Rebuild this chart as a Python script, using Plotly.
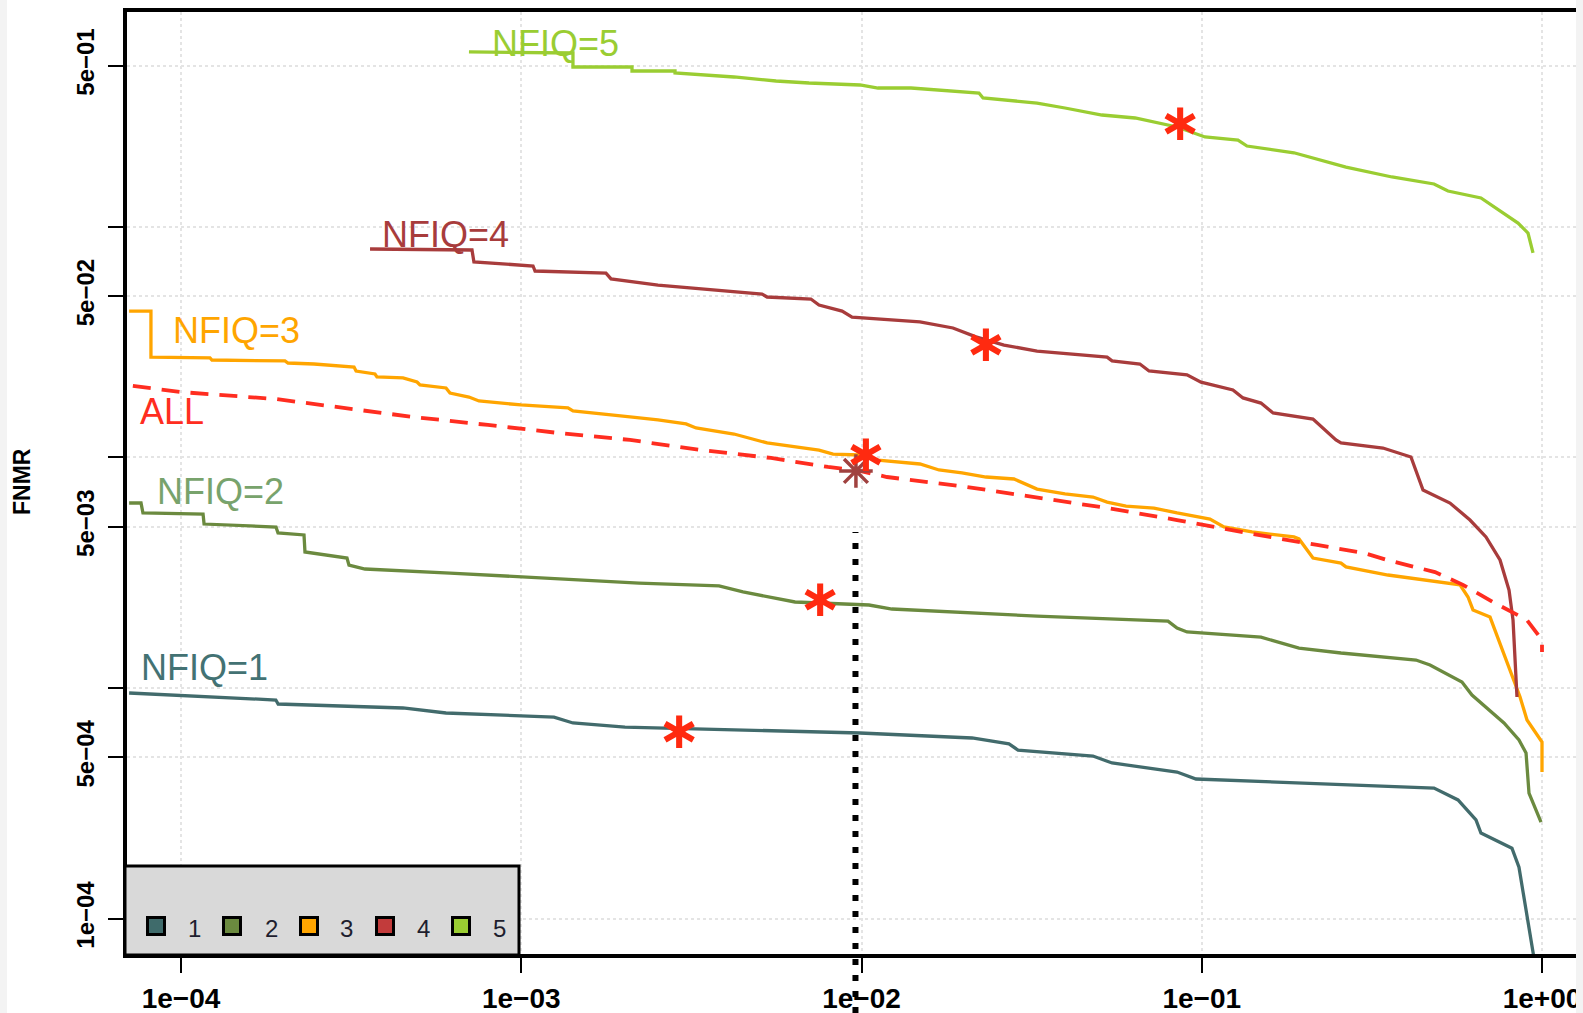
import numpy as np
import plotly.graph_objects as go

# ---------------- data (FAR on x, FNMR on y) ----------------
far_nfiq1 = [7.04e-5, 1.25e-4, 1.90e-4, 1.93e-4, 4.49e-4, 6.01e-4, 1.248e-3, 1.419e-3, 2.018e-3,
             9.9e-3, 2.113e-2, 2.713e-2, 2.884e-2, 4.79e-2, 5.45e-2, 8.46e-2, 9.62e-2, 0.4815,
             0.5664, 0.6397, 0.6616, 0.816, 0.8557, 0.960]
fnmr_nfiq1 = [9.51e-4, 9.14e-4, 8.87e-4, 8.52e-4, 8.19e-4, 7.79e-4, 7.48e-4, 7.05e-4, 6.77e-4,
              6.38e-4, 6.07e-4, 5.72e-4, 5.38e-4, 5.07e-4, 4.73e-4, 4.32e-4, 4.03e-4, 3.68e-4,
              3.27e-4, 2.68e-4, 2.35e-4, 2.02e-4, 1.67e-4, 5.98e-5]

far_nfiq2 = [7.04e-5, 7.63e-5, 7.73e-5, 1.161e-4, 1.169e-4, 1.902e-4, 1.928e-4, 2.299e-4, 2.314e-4,
             3.075e-4, 3.117e-4, 3.474e-4, 6.175e-4, 1.175e-3, 2.218e-3, 3.813e-3, 4.485e-3,
             6.377e-3, 1.052e-2, 1.229e-2, 3.28e-2, 7.96e-2, 8.46e-2, 9.05e-2, 0.1493, 0.1931,
             0.2566, 0.4263, 0.4687, 0.5818, 0.6226, 0.7731, 0.8557, 0.8976, 0.9158, 0.9933]
fnmr_nfiq2 = [6.34e-3, 6.34e-3, 5.74e-3, 5.68e-3, 5.14e-3, 4.99e-3, 4.70e-3, 4.61e-3, 3.89e-3,
              3.66e-3, 3.41e-3, 3.28e-3, 3.15e-3, 3.00e-3, 2.85e-3, 2.77e-3, 2.61e-3,
              2.36e-3, 2.29e-3, 2.20e-3, 2.05e-3, 1.95e-3, 1.82e-3, 1.75e-3, 1.66e-3, 1.49e-3,
              1.418e-3, 1.322e-3, 1.258e-3, 1.062e-3, 9.32e-4, 7.05e-4, 5.95e-4, 5.22e-4, 3.50e-4, 2.62e-4]

far_nfiq3 = [7.04e-5, 8.16e-5, 8.16e-5, 1.217e-4, 1.233e-4, 2.021e-4, 2.063e-4, 2.46e-4, 3.225e-4,
             3.27e-4, 3.716e-4, 3.767e-4, 4.493e-4, 4.939e-4, 5.04e-4, 6.009e-4, 6.175e-4, 7.02e-4,
             7.51e-4, 9.98e-4, 1.372e-3, 1.419e-3, 2.088e-3, 2.523e-3, 3.05e-3, 3.264e-3, 4.22e-3,
             5.28e-3, 7.50e-3, 8.25e-3, 9.9e-3, 1.118e-2, 1.485e-2, 1.69e-2, 1.974e-2, 2.323e-2,
             2.807e-2, 3.086e-2, 3.28e-2, 3.963e-2, 4.79e-2, 5.27e-2, 5.99e-2, 7.24e-2, 8.46e-2,
             0.1057, 0.1162, 0.1405, 0.1866, 0.1931, 0.2123, 0.2566, 0.2654, 0.3526, 0.5013,
             0.5741, 0.6061, 0.6269, 0.7035, 0.8054, 0.862, 0.9035, 1.0, 1.0]
fnmr_nfiq3 = [4.31e-2, 4.31e-2, 2.72e-2, 2.70e-2, 2.644e-2, 2.62e-2, 2.566e-2, 2.541e-2, 2.466e-2,
              2.369e-2, 2.30e-2, 2.232e-2, 2.21e-2, 2.123e-2, 2.06e-2, 2.00e-2, 1.90e-2, 1.827e-2,
              1.756e-2, 1.688e-2, 1.638e-2, 1.589e-2, 1.497e-2, 1.453e-2, 1.396e-2, 1.341e-2, 1.263e-2,
              1.155e-2, 1.076e-2, 1.034e-2, 1.024e-2, 9.74e-3, 9.36e-3, 8.82e-3, 8.56e-3, 8.22e-3,
              8.06e-3, 7.59e-3, 7.29e-3, 6.94e-3, 6.73e-3, 6.40e-3, 6.15e-3, 6.03e-3, 5.74e-3,
              5.40e-3, 4.99e-3, 4.75e-3, 4.52e-3, 4.43e-3, 3.66e-3, 3.48e-3, 3.35e-3, 3.09e-3, 2.88e-3,
              2.80e-3, 2.48e-3, 2.18e-3, 2.03e-3, 1.196e-3, 9.14e-4, 7.26e-4, 5.83e-4, 4.32e-4]

far_nfiq4 = [3.594e-4, 7.165e-4, 7.26e-4, 1.083e-3, 1.098e-3, 1.774e-3, 1.836e-3, 2.523e-3, 5.10e-3,
             5.28e-3, 7.10e-3, 7.50e-3, 8.77e-3, 9.38e-3, 1.485e-2, 1.857e-2, 2.17e-2, 2.623e-2,
             3.28e-2, 5.27e-2, 5.45e-2, 6.58e-2, 7.0e-2, 9.05e-2, 0.0995, 0.1235, 0.1322, 0.1493,
             0.162, 0.2123, 0.248, 0.2566, 0.3409, 0.412, 0.447, 0.5366, 0.6143, 0.6844, 0.7527,
             0.80, 0.822, 0.8443]
fnmr_nfiq4 = [8.01e-2, 7.93e-2, 7.04e-2, 6.76e-2, 6.43e-2, 6.30e-2, 5.94e-2, 5.59e-2, 5.11e-2,
              4.96e-2, 4.86e-2, 4.58e-2, 4.31e-2, 4.06e-2, 3.87e-2, 3.64e-2, 3.33e-2, 3.07e-2,
              2.89e-2, 2.72e-2, 2.62e-2, 2.54e-2, 2.37e-2, 2.28e-2, 2.12e-2, 1.96e-2, 1.81e-2, 1.72e-2,
              1.558e-2, 1.467e-2, 1.19e-2, 1.155e-2, 1.098e-2, 1.004e-2, 7.22e-3, 6.34e-3, 5.35e-3,
              4.52e-3, 3.59e-3, 2.66e-3, 1.97e-3, 9.14e-4]

far_nfiq5 = [7.02e-4, 1.419e-3, 1.419e-3, 2.116e-3, 2.116e-3, 2.831e-3, 2.831e-3, 4.22e-3, 5.61e-3,
             7.01e-3, 9.9e-3, 1.118e-2, 1.398e-2, 2.214e-2, 2.276e-2, 3.28e-2, 3.963e-2, 5.09e-2,
             6.37e-2, 8.46e-2, 0.1022, 0.1278, 0.1358, 0.1866, 0.2654, 0.3623, 0.4815, 0.5293,
             0.6616, 0.7731, 0.8502, 0.9097, 0.941]
fnmr_nfiq5 = [0.573, 0.567, 0.493, 0.493, 0.4737, 0.4737, 0.4644, 0.4463, 0.4288,
              0.4202, 0.412, 0.3997, 0.3997, 0.3804, 0.3618, 0.344, 0.3274, 0.3053,
              0.2963, 0.2709, 0.2451, 0.2378, 0.224, 0.2094, 0.1816, 0.1644, 0.1533, 0.1429,
              0.1333, 0.1147, 0.1038, 0.094, 0.077]

far_all = [7.22e-5, 1.0e-4, 1.902e-4, 3.075e-4, 4.81e-4, 7.98e-4, 1.291e-3, 2.088e-3, 3.376e-3,
           5.42e-3, 7.97e-3, 9.9e-3, 1.188e-2, 2.042e-2, 3.28e-2, 5.27e-2, 8.46e-2, 0.1358,
           0.2182, 0.2998, 0.3503, 0.4848, 0.5858, 0.7178, 0.9035, 1.0, 1.0]
fnmr_all = [2.04e-2, 1.92e-2, 1.79e-2, 1.638e-2, 1.497e-2, 1.382e-2, 1.275e-2, 1.19e-2, 1.076e-2,
            9.94e-3, 9.09e-3, 8.73e-3, 8.22e-3, 7.44e-3, 6.73e-3, 6.03e-3, 5.35e-3, 4.70e-3,
            4.17e-3, 3.85e-3, 3.59e-3, 3.18e-3, 2.80e-3, 2.36e-3, 1.97e-3, 1.615e-3, 1.432e-3]

# operating points (red stars), one per NFIQ class
star_far = [2.908e-3, 7.55e-3, 1.03e-2, 2.32e-2, 8.63e-2]
star_fnmr = [6.25e-4, 2.336e-3, 9.94e-3, 2.98e-2, 0.271]
# operating point of ALL
all_star_far = [9.63e-3]
all_star_fnmr = [8.73e-3]

# threshold marker (dotted vertical line)
far_threshold = 0.0096
fnmr_threshold_top = 0.00475

x_tickvals = [1e-4, 1e-3, 1e-2, 1e-1, 1.0]
x_ticktext = ["1e\u221204", "1e\u221203", "1e\u221202", "1e\u221201", "1e+00"]
y_tickvals = [1e-4, 5e-4, 1e-3, 5e-3, 1e-2, 5e-2, 1e-1, 5e-1]
y_ticktext = ["1e\u221204", "5e\u221204", "", "5e\u221203", "", "5e\u221202", "", "5e\u221201"]

series_names = ["NFIQ=1", "NFIQ=2", "NFIQ=3", "NFIQ=4", "NFIQ=5"]
legend_labels = ["1", "2", "3", "4", "5"]
line_colors = ["#426b6c", "#6b8a3f", "#ffa500", "#a83c3c", "#9acd32"]
legend_colors = ["#3f6b6b", "#6b8a3f", "#ffa500", "#c23b3b", "#9acd32"]
label_colors = ["#437273", "#78a36c", "#ffa500", "#a83c3c", "#9acd32"]
all_color = "#ff2d20"
star_color = "#ff2a10"

# ---------------- layout constants (pixels) ----------------
W, H = 1583, 1013
L, R, T, B = 127, 0, 12, 59
X_RANGE = [-4.1587, 0.1205]
Y_RANGE = [-4.1536, -0.0686]
PW, PH = W - L - R, H - T - B


def px(X):
    return (X - L) / PW


def py(Y):
    return (H - B - Y) / PH


fig = go.Figure()

fars = [far_nfiq1, far_nfiq2, far_nfiq3, far_nfiq4, far_nfiq5]
fnmrs = [fnmr_nfiq1, fnmr_nfiq2, fnmr_nfiq3, fnmr_nfiq4, fnmr_nfiq5]
for name, xs, ys, c in zip(series_names, fars, fnmrs, line_colors):
    fig.add_trace(go.Scatter(x=xs, y=ys, mode="lines", name=name,
                             line=dict(color=c, width=3.3), showlegend=False))

fig.add_trace(go.Scatter(x=far_all, y=fnmr_all, mode="lines", name="ALL",
                         line=dict(color=all_color, width=3.8, dash="18px,11px"),
                         showlegend=False))

fig.add_trace(go.Scatter(x=all_star_far, y=all_star_fnmr, mode="markers", showlegend=False,
                         marker=dict(symbol="asterisk-open", size=28, color="#a0413f",
                                     line=dict(color="#a0413f", width=3.5))))

fig.add_trace(go.Scatter(x=star_far, y=star_fnmr, mode="text", text=["\u2217"] * len(star_far),
                         textposition="middle center", showlegend=False,
                         textfont=dict(family="DejaVu Sans", size=52, color=star_color,
                                       weight="bold")))

# dotted threshold line (extends below the axis as in the original)
y_top_paper = (np.log10(fnmr_threshold_top) - Y_RANGE[0]) / (Y_RANGE[1] - Y_RANGE[0])
fig.add_shape(type="line", xref="x", yref="paper", x0=far_threshold, x1=far_threshold,
              y0=py(1013), y1=y_top_paper, line=dict(color="black", width=6, dash="6px,10px"))

# curve labels
label_pos = {"NFIQ=5": (490, 44), "NFIQ=4": (380, 235), "NFIQ=3": (171, 330),
             "NFIQ=2": (155, 491), "NFIQ=1": (139, 667)}
for name, c in zip(series_names, label_colors):
    X, Y = label_pos[name]
    fig.add_annotation(x=px(X), y=py(Y), xref="paper", yref="paper", text=name,
                       showarrow=False, xanchor="left", yanchor="middle",
                       font=dict(family="Liberation Sans, Arial, sans-serif", size=36, color=c))
fig.add_annotation(x=px(138), y=py(411), xref="paper", yref="paper", text="ALL",
                   showarrow=False, xanchor="left", yanchor="middle",
                   font=dict(family="Liberation Sans, Arial, sans-serif", size=36, color=all_color))

# y axis title
fig.add_annotation(x=px(22), y=py(482), xref="paper", yref="paper", text="FNMR",
                   showarrow=False, textangle=-90, xanchor="center", yanchor="middle",
                   font=dict(family="Liberation Sans Narrow, Liberation Sans, sans-serif",
                             size=23, color="black", weight="bold"))

# legend box
fig.add_shape(type="rect", xref="paper", yref="paper", x0=px(125), x1=px(519),
              y0=py(955), y1=py(866), fillcolor="#d9d9d9", line=dict(color="black", width=3),
              layer="above")
sq_x = [156, 232, 309, 385, 461]
lab_x = [194, 271, 346, 423, 499]
for i, (c, lab) in enumerate(zip(legend_colors, legend_labels)):
    fig.add_shape(type="rect", xref="paper", yref="paper", xsizemode="pixel",
                  ysizemode="pixel", xanchor=px(sq_x[i]), yanchor=py(926),
                  x0=-8.5, x1=8.5, y0=-8.5, y1=8.5, fillcolor=c,
                  line=dict(color="black", width=3), layer="above")
    fig.add_annotation(x=px(lab_x[i]), y=py(928), xref="paper", yref="paper", text=lab,
                       showarrow=False, xanchor="center", yanchor="middle",
                       font=dict(family="Liberation Sans, Arial, sans-serif", size=24,
                                 color="#1e1e2e"))

# light grey page strips at the left and right edges of the original screenshot
fig.add_shape(type="rect", xref="paper", yref="paper", x0=px(0), x1=px(7), y0=py(1013), y1=py(0),
              fillcolor="#f3f3f3", line=dict(width=0), layer="above")
fig.add_shape(type="rect", xref="paper", yref="paper", x0=px(1576), x1=px(1583), y0=py(1013),
              y1=py(0), fillcolor="#f3f3f3", line=dict(width=0), layer="above")

tick_font_family = "Liberation Sans Narrow, Liberation Sans, sans-serif"
fig.update_xaxes(type="log", range=X_RANGE, tickvals=x_tickvals, ticktext=x_ticktext,
                 showline=True, linecolor="black", linewidth=3.5, mirror=True,
                 ticks="outside", ticklen=15, tickwidth=2, tickcolor="black",
                 showgrid=True, gridcolor="#e4e4e4", gridwidth=2, griddash="dot",
                 zeroline=False, ticklabelstandoff=2, automargin=False,
                 tickfont=dict(family=tick_font_family, size=28, color="black", weight="bold"))
fig.update_yaxes(type="log", range=Y_RANGE, tickvals=y_tickvals, ticktext=y_ticktext,
                 showline=True, linecolor="black", linewidth=3.5, mirror=False,
                 ticks="outside", ticklen=15, tickwidth=2, tickcolor="black",
                 showgrid=True, gridcolor="#e4e4e4", gridwidth=2, griddash="dot",
                 zeroline=False, tickangle=-90, ticklabelstandoff=5, automargin=False,
                 tickfont=dict(family=tick_font_family, size=24, color="black", weight="bold"))

fig.update_layout(width=W, height=H, margin=dict(l=L, r=R, t=T, b=B, pad=0, autoexpand=False),
                  paper_bgcolor="white", plot_bgcolor="white", showlegend=False)

fig.write_html("out.html")
